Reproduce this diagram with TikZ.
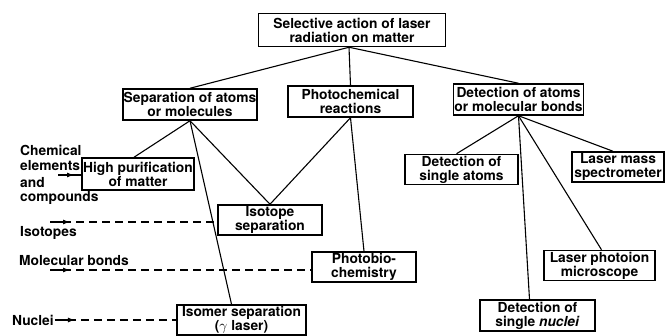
\documentclass[tikz,border=0pt]{standalone}
\usepackage{fontspec}
\setsansfont{TeX Gyre Heros}
\usetikzlibrary{arrows.meta}

\tikzset{
  box/.style={draw, line width=1.5pt, align=center, inner sep=0.5pt,
              font=\sffamily\bfseries\fontsize{13.8}{14}\selectfont},
  lbl/.style={align=left, anchor=west, inner sep=0pt,
              font=\sffamily\bfseries\fontsize{13.8}{14.5}\selectfont},
  link/.style={line width=1.1pt},
  feed/.style={line width=1.1pt, -{Latex[length=7pt,width=5pt]}},
  feedline/.style={line width=1.1pt, dash pattern=on 8pt off 5pt}
}

\begin{document}
\begin{tikzpicture}[x=1pt,y=-1pt]
  \useasboundingbox (0,0) rectangle (665,336);

  % boxes
  \node[box, minimum width=187, minimum height=33] (sel) at (352,30) {Selective action of laser\\radiation on matter};
  \node[box, minimum width=132, minimum height=31] (sep) at (190,104.5) {Separation of atoms\\or molecules};
  \node[box, minimum width=125, minimum height=31] (phc) at (350.5,101.5) {Photochemical\\reactions};
  \node[box, minimum width=130, minimum height=31] (det) at (518.5,99.5) {Detection of atoms\\or molecular bonds};
  \node[box, minimum width=112, minimum height=32] (hpm) at (138,174) {High purification\\of matter};
  \node[box, minimum width=104, minimum height=30] (iso) at (270,220) {Isotope\\separation};
  \node[box, minimum width=104, minimum height=30] (pbio) at (364,267) {Photobio-\\chemistry};
  \node[box, minimum width=129, minimum height=30] (ism) at (241.5,320) {Isomer separation\\($\gamma$ laser)};
  \node[box, minimum width=113, minimum height=30] (sat) at (461.5,169.5) {Detection of\\single atoms};
  \node[box, minimum width=92, minimum height=30] (lms) at (618,167) {Laser mass\\spectrometer};
  \node[box, minimum width=111, minimum height=30] (lpm) at (599.5,265.5) {Laser photoion\\microscope};
  \node[box, minimum width=115, minimum height=31] (snu) at (537.5,315.5) {Detection of\\single \textit{nuclei}};

  % tree
  \draw[link] ([xshift=-3pt]sel.south) -- (sep.north);
  \draw[link] ([xshift=-3pt]sel.south) -- (phc.north);
  \draw[link] ([xshift=-3pt]sel.south) -- (det.north);
  \draw[link] (sep.south) -- ([xshift=-4pt]hpm.north);
  \draw[link] (sep.south) -- (iso.north);
  \draw[link] (sep.south) -- ([xshift=-10pt]ism.north);
  \draw[link] (phc.south) -- (iso.north);
  \draw[link] (phc.south) -- (pbio.north);
  \draw[link] (det.south) -- ([xshift=-5pt]sat.north);
  \draw[link] (det.south) -- ([xshift=-5pt]lms.north);
  \draw[link] (det.south) -- ([xshift=2pt]lpm.north);
  \draw[link] (det.south) -- ([xshift=-8pt]snu.north);

  % inputs on the left
  \node[lbl] (chem) at (20,158) {Chemical\\elements};
  \node[lbl] (comp) at (20,191) {and\\compounds};
  \node[lbl] (isot) at (20,233) {Isotopes};
  \node[lbl] (molb) at (19,261) {Molecular bonds};
  \node[lbl] (nucl) at (12,320) {Nuclei};

  \coordinate (chemin) at (58,175);
  \coordinate (isoin) at (50,222);
  \coordinate (molin) at (50,270);
  \coordinate (nucin) at ([xshift=1pt]nucl.east);

  \draw[link] (chemin) -- (chemin -| hpm.west);
  \draw[feed] (chemin) -- ++(16,0);
  \draw[feedline] (isoin) -- (isoin -| iso.west);
  \draw[feed] (isoin) -- ++(20,0);
  \draw[feedline] (molin) -- (molin -| pbio.west);
  \draw[feed] (molin) -- ++(20,0);
  \draw[feedline] (nucin) -- (nucin -| ism.west);
  \draw[feed] (nucin) -- ++(20,0);
\end{tikzpicture}
\end{document}
